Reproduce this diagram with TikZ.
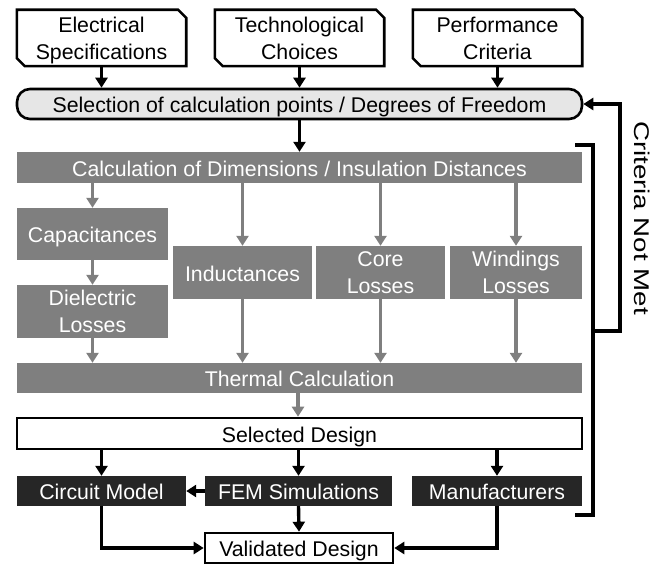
\documentclass[tikz,border=0pt]{standalone}
\usepackage{fontspec}
\setmainfont{Liberation Sans}
\usetikzlibrary{arrows.meta}
\definecolor{boxgray}{HTML}{7F7F7F}
\definecolor{boxdark}{HTML}{262626}
\definecolor{pillgray}{HTML}{E6E6E6}
\begin{document}
\begin{tikzpicture}[x=1pt,y=-1pt,
  base/.style={inner sep=0pt, align=center, font=\fontsize{21.3}{27}\selectfont, text height=17pt, text depth=0pt},
  two/.style={text height=, text depth=0pt},
  inbox/.style={base, draw=none},
  graybox/.style={base, fill=boxgray, text=white},
  darkbox/.style={base, fill=boxdark, text=white},
  whitebox/.style={base, draw=black, line width=2.6pt, fill=white},
  pill/.style={base, draw=black, line width=2.6pt, fill=pillgray, rounded corners=13pt},
  blk/.style={line width=3.4pt, -{Triangle[length=10pt,width=12pt]}},
  gry/.style={line width=3.4pt, draw=boxgray, -{Triangle[length=10pt,width=12pt]}, color=boxgray},
  brk/.style={line width=3.4pt}
]
\useasboundingbox (0,0) rectangle (668,564);

% top input boxes
\node[inbox, two, minimum width=169, minimum height=56] (elec) at (101.5,38) {Electrical\\Specifications};
\node[inbox, two, minimum width=169, minimum height=56] (tech) at (299.5,38) {Technological\\Choices};
\node[inbox, two, minimum width=169, minimum height=56] (perf) at (497.5,38) {Performance\\Criteria};
\foreach \n in {elec,tech,perf}{
  \draw[line width=2.6pt, line join=miter] (\n.north west) -- ([xshift=-8pt]\n.north east) -- ([yshift=-8pt]\n.north east)
     -- (\n.south east) -- ([xshift=8pt]\n.south west) -- ([yshift=8pt]\n.south west) -- cycle;
}

\node[pill, minimum width=565, minimum height=30] (sel) at (299.5,104) {Selection of calculation points / Degrees of Freedom};

\node[graybox, minimum width=565, minimum height=31] (calc) at (299.5,167.5) {Calculation of Dimensions / Insulation Distances};
\node[graybox, minimum width=151, minimum height=52] (cap) at (92.5,234) {Capacitances};
\node[graybox, two, minimum width=151, minimum height=53] (diel) at (92.5,311.5) {Dielectric\\Losses};
\node[graybox, minimum width=139, minimum height=53] (ind) at (242.5,272.5) {Inductances};
\node[graybox, two, minimum width=129, minimum height=53] (core) at (380.5,272.5) {Core\\Losses};
\node[graybox, two, minimum width=132, minimum height=53] (wind) at (516,272.5) {Windings\\Losses};
\node[graybox, minimum width=565, minimum height=30] (therm) at (299.5,378) {Thermal Calculation};

\node[whitebox, minimum width=565, minimum height=31] (seld) at (299.5,433.5) {Selected Design};
\node[darkbox, minimum width=169, minimum height=30] (circ) at (101.5,491) {Circuit Model};
\node[darkbox, minimum width=187, minimum height=30] (fem) at (298.5,491) {FEM Simulations};
\node[darkbox, minimum width=170, minimum height=30] (manu) at (497,491) {Manufacturers};
\node[whitebox, minimum width=188, minimum height=30] (val) at (299,548) {Validated Design};

% black arrows top
\draw[blk] (elec.south) -- (elec.south |- sel.north);
\draw[blk] (tech.south) -- (tech.south |- sel.north);
\draw[blk] (perf.south) -- (perf.south |- sel.north);
\draw[blk] (sel.south) -- (sel.south |- calc.north);

% gray arrows
\draw[gry] (calc.south -| cap.north) -- (cap.north);
\draw[gry] (cap.south) -- (diel.north);
\draw[gry] (diel.south) -- (diel.south |- therm.north);
\draw[gry] (calc.south -| ind.north) -- (ind.north);
\draw[gry] (calc.south -| core.north) -- (core.north);
\draw[gry] (calc.south -| wind.north) -- (wind.north);
\draw[gry] (ind.south) -- (ind.south |- therm.north);
\draw[gry] (core.south) -- (core.south |- therm.north);
\draw[gry] (wind.south) -- (wind.south |- therm.north);
\draw[gry] ([xshift=-1.5pt]therm.south) -- ([xshift=-1.5pt]therm.south |- seld.north);

% black arrows bottom
\draw[blk] (seld.south -| circ.north) -- (circ.north);
\draw[blk] (seld.south -| fem.north) -- (fem.north);
\draw[blk] (seld.south -| manu.north) -- (manu.north);
\draw[blk] (fem.west) -- (circ.east);
\draw[blk] (fem.south) -- (val.north);
\draw[blk, line join=miter] (circ.south) -- (circ.south |- val.west) -- (val.west);
\draw[blk, line join=miter] (manu.south) -- (manu.south |- val.east) -- (val.east);

% feedback bracket
\coordinate (b1) at (575,145);
\coordinate (b2) at (593,145);
\coordinate (b3) at (593,515);
\coordinate (b4) at (575,515);
\coordinate (bm) at (593,331);
\coordinate (fr) at (620,331);
\draw[brk, line join=miter] (b1) -- (b2) -- (b3) -- (b4);
\draw[blk, line join=miter] (bm) -- (fr) -- (fr |- sel.east) -- (sel.east);
\node[inner sep=0pt, rotate=-90, font=\fontsize{21.3}{27}\selectfont, xscale=1.3] (crit) at (642,218) {Criteria Not Met};
\end{tikzpicture}
\end{document}
